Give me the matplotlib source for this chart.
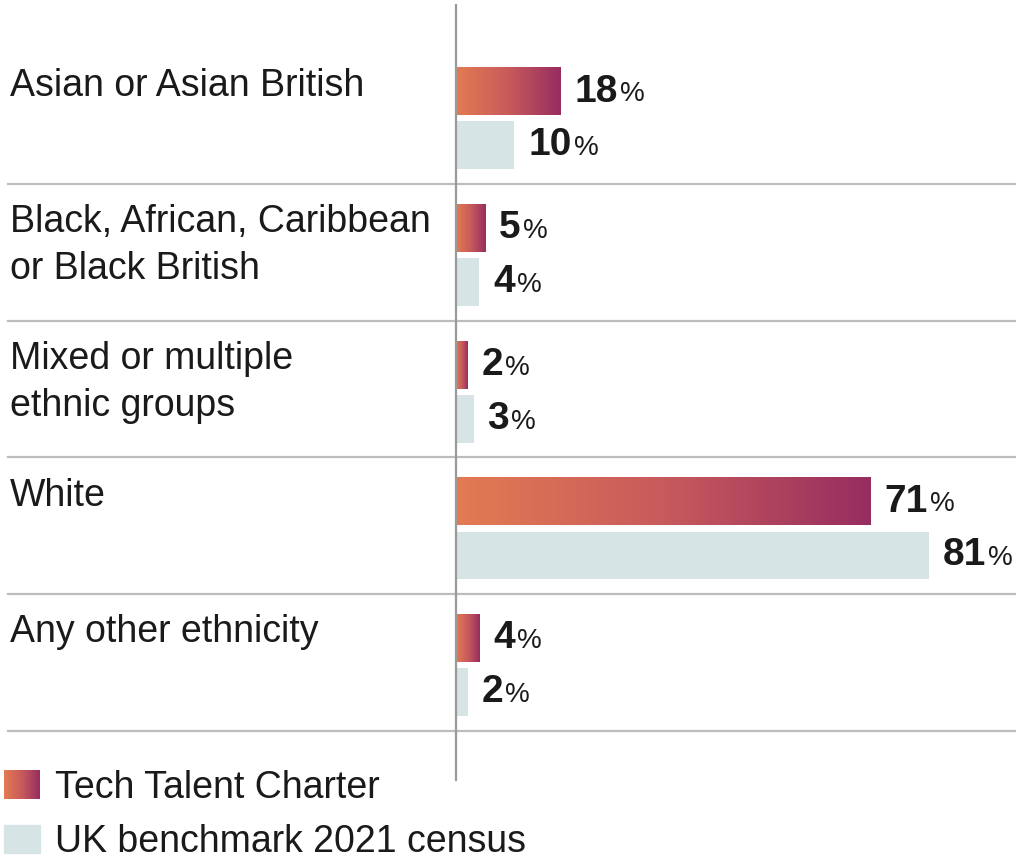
import numpy as np
import matplotlib.pyplot as plt
from matplotlib.colors import LinearSegmentedColormap
from matplotlib.legend_handler import HandlerBase
from matplotlib.image import BboxImage
from matplotlib.transforms import Bbox, TransformedBbox
from matplotlib.patches import Patch

plt.rcParams['font.family'] = ['Liberation Sans', 'DejaVu Sans']

groups = ["Asian or Asian British", "Black, African, Caribbean\nor Black British",
          "Mixed or multiple\nethnic groups", "White", "Any other ethnicity"]
tech_talent = [18, 5, 2, 71, 4]
census_2021 = [10, 4, 3, 81, 2]
series_names = ["Tech Talent Charter", "UK benchmark 2021 census"]

grad_cmap = LinearSegmentedColormap.from_list("ttc", ["#E37B52", "#C85A5C", "#962D60"])
census_color = "#D7E4E6"
text_color = "#1a1a1a"
grid_color = "#bdbdbd"
grad = np.linspace(0, 1, 256).reshape(1, -1)

fig = plt.figure(figsize=(10.16, 8.58), dpi=100)
ax = fig.add_axes([456 / 1016, 78 / 858, 560 / 1016, 775 / 858])

y = np.arange(len(groups))
off = 0.197
h = 0.35

# gradient bars: invisible barh + image over each bar
bars = ax.barh(y - off, tech_talent, height=h, color="none", edgecolor="none")
for b, v in zip(bars, tech_talent):
    y0, y1 = b.get_y(), b.get_y() + b.get_height()
    ax.imshow(grad, cmap=grad_cmap, extent=(0, v, y1, y0), aspect="auto", zorder=2)
ax.barh(y + off, census_2021, height=h, color=census_color, zorder=2)

ax.set_xlim(0, 96)
ax.set_ylim(4.84, -0.83)

# value labels: bold number + smaller %
def value_label(x, yy):
    t = ax.annotate(f"{x}", xy=(x, yy), xytext=(10, 0), textcoords="offset points",
                    ha="left", va="center", fontsize=28, fontweight="bold", color=text_color)
    ax.annotate("%", xy=(1, 0), xycoords=t, xytext=(1.5, 28 * 0.21), textcoords="offset points",
                ha="left", va="baseline", fontsize=20, color=text_color)

for i in range(len(groups)):
    value_label(tech_talent[i], y[i] - off)
    value_label(census_2021[i], y[i] + off)

# category labels (x in axes fraction, y in data)
for i, g in enumerate(groups):
    ax.text(-0.796, y[i] - off - h / 2, g, transform=ax.get_yaxis_transform(),
            ha="left", va="top", fontsize=27, color=text_color, linespacing=1.4)

# separators
for i in range(len(groups)):
    ax.axhline(y[i] + 0.48, xmin=-0.8, xmax=1, color=grid_color, lw=1.6, clip_on=False, zorder=1)

for s in ["top", "right", "bottom"]:
    ax.spines[s].set_visible(False)
ax.spines["left"].set_color("#9a9a9a")
ax.spines["left"].set_linewidth(1.6)
ax.set_xticks([])
ax.set_yticks([])


class GradientHandler(HandlerBase):
    def create_artists(self, legend, orig_handle, xdescent, ydescent, width, height, fontsize, trans):
        bb = TransformedBbox(Bbox.from_bounds(-xdescent, -ydescent, width, height), trans)
        img = BboxImage(bb, cmap=grad_cmap, interpolation="bilinear")
        img.set_data(grad)
        return [img]


h1 = Patch(color="#C85A5C")
h2 = Patch(color=census_color)
fig.legend([h1, h2], series_names, handler_map={h1: GradientHandler()},
           loc="upper left", bbox_to_anchor=(4 / 1016, 1 - 770 / 858), frameon=False,
           fontsize=27, handlelength=0.96, handleheight=0.8, handletextpad=0.4,
           labelspacing=0.48, borderpad=0.0, borderaxespad=0.0, labelcolor=text_color)

fig.savefig("out.png", dpi=100)
